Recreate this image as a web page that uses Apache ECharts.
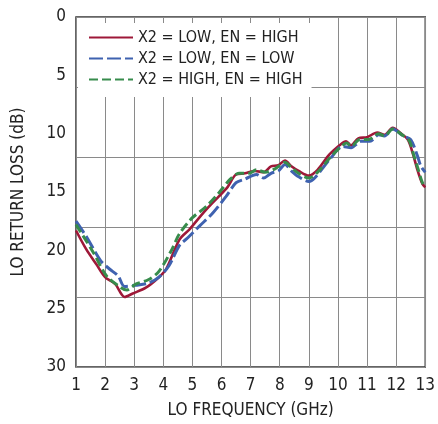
<!DOCTYPE html>
<html>
<head>
<meta charset="utf-8">
<script src="https://cdn.jsdelivr.net/npm/echarts@6/dist/echarts.min.js"></script>
<style>
  html, body { margin: 0; padding: 0; background: #fff; }
  #chart { width: 438px; height: 424px; }
</style>
</head>
<body>
<div id="chart"></div>
<script>
// X2 = LOW, EN = HIGH
var freqA = [1.0, 1.35, 1.7, 2.0, 2.35, 2.67, 2.95, 3.4, 3.85, 4.1, 4.55, 4.9, 5.2, 5.55, 5.9, 6.2, 6.5, 6.8, 7.15, 7.45, 7.7, 7.95, 8.18, 8.4, 8.65, 9.0, 9.3, 9.7, 10.1, 10.28, 10.45, 10.7, 11.0, 11.35, 11.6, 11.88, 12.15, 12.4, 12.56, 12.73, 12.9, 13.0]
var lossA = [18.3, 19.9, 21.2, 22.3, 22.9, 24.0, 23.7, 23.2, 22.3, 21.6, 19.1, 18.2, 17.3, 16.3, 15.4, 14.6, 13.5, 13.4, 13.2, 13.3, 12.8, 12.7, 12.3, 12.8, 13.2, 13.6, 13.1, 11.8, 10.9, 10.65, 11.0, 10.4, 10.3, 9.9, 10.1, 9.5, 9.95, 10.5, 11.6, 13.1, 14.3, 14.6]
// X2 = LOW, EN = LOW
var freqB = [1.0, 1.35, 1.85, 2.15, 2.45, 2.67, 3.05, 3.5, 3.85, 4.2, 4.55, 4.85, 5.25, 5.7, 6.15, 6.5, 6.8, 7.2, 7.45, 7.7, 7.95, 8.18, 8.4, 8.65, 9.0, 9.2, 9.75, 10.15, 10.45, 10.8, 11.1, 11.4, 11.6, 11.88, 12.25, 12.5, 12.73, 12.85, 13.0]
var lossB = [17.5, 18.8, 20.9, 21.6, 22.2, 23.1, 23.0, 22.8, 22.3, 21.3, 19.6, 18.9, 17.9, 16.8, 15.4, 14.2, 13.9, 13.5, 13.8, 13.4, 13.2, 12.65, 13.2, 13.7, 14.1, 13.8, 12.1, 11.1, 11.2, 10.65, 10.65, 10.1, 10.2, 9.6, 10.2, 10.5, 11.9, 12.8, 13.3]
// X2 = HIGH, EN = HIGH
var freqC = [1.0, 1.6, 2.05, 2.55, 2.75, 3.05, 3.5, 3.85, 4.3, 4.55, 5.0, 5.45, 5.9, 6.3, 6.6, 6.95, 7.2, 7.5, 7.85, 8.18, 8.4, 8.65, 9.0, 9.3, 9.75, 10.15, 10.3, 10.45, 10.75, 11.05, 11.4, 11.6, 11.88, 12.2, 12.45, 12.6, 12.75, 12.9, 13.0]
var lossC = [17.8, 20.2, 22.2, 23.2, 23.4, 22.9, 22.5, 21.8, 19.9, 18.6, 17.2, 16.3, 15.1, 13.9, 13.4, 13.4, 13.1, 13.3, 13.0, 12.45, 12.9, 13.4, 13.8, 13.3, 12.0, 11.0, 10.8, 11.1, 10.5, 10.5, 10.0, 10.2, 9.6, 10.1, 10.6, 11.8, 13.0, 14.2, 14.6]

var seriesNames = ['X2 = LOW, EN = HIGH', 'X2 = LOW, EN = LOW', 'X2 = HIGH, EN = HIGH']
var xTicks = [1, 13, 1]   // min, max, step
var yLabelTicks = [0, 30, 5]
var yGridStep = 6

var font = '"Liberation Sans Narrow", "DejaVu Sans Condensed", "Liberation Sans", sans-serif'

function pairs(xs, ys) {
    return xs.map(function (x, i) { return [x, ys[i]] })
}

var chart = echarts.init(document.getElementById('chart'), null, { renderer: 'canvas' })

chart.setOption({
    animation: false,
    textStyle: { fontFamily: font },
    grid: {
        left: 76,
        right: 10,
        top: 17,
        bottom: 56,
        show: true,
        borderColor: '#333',
        borderWidth: 1.5
    },
    legend: {
        orient: 'vertical',
        left: 78,
        top: 23,
        padding: [4, 9, 7, 10],
        backgroundColor: '#fff',
        itemWidth: 44,
        itemHeight: 14,
        itemGap: 0,
        itemStyle: { opacity: 0 },
        textStyle: { fontFamily: font, fontSize: 16, color: '#222', lineHeight: 21 },
        data: seriesNames
    },
    xAxis: [{
        type: 'value',
        min: xTicks[0],
        max: xTicks[1],
        interval: xTicks[2],
        name: 'LO FREQUENCY (GHz)',
        nameLocation: 'middle',
        nameGap: 35,
        nameTextStyle: { fontFamily: font, fontSize: 17, color: '#222' },
        axisLine: { show: false },
        axisTick: { show: false },
        axisLabel: { fontFamily: font, fontSize: 17, color: '#222', margin: 10 },
        splitLine: { show: true, lineStyle: { color: '#8a8a8a', width: 1 } }
    }],
    yAxis: [{
        type: 'value',
        position: 'left',
        inverse: true,
        min: yLabelTicks[0],
        max: yLabelTicks[1],
        interval: yLabelTicks[2],
        name: 'LO RETURN LOSS (dB)',
        nameLocation: 'middle',
        nameGap: 49,
        nameTextStyle: { fontFamily: font, fontSize: 17, color: '#222' },
        axisLine: { show: false },
        axisTick: { show: false },
        axisLabel: { fontFamily: font, fontSize: 17, color: '#222', margin: 10, padding: [3, 0, 0, 0] },
        splitLine: { show: false }
    }, {
        type: 'value',
        position: 'left',
        inverse: true,
        min: yLabelTicks[0],
        max: yLabelTicks[1],
        interval: yGridStep,
        axisLine: { show: false },
        axisTick: { show: false },
        axisLabel: { show: false },
        splitLine: { show: true, lineStyle: { color: '#8a8a8a', width: 1 } }
    }],
    series: [{
        name: seriesNames[0],
        type: 'line',
        smooth: 0.3,
        symbol: 'none',
        data: pairs(freqA, lossA),
        lineStyle: { color: '#9e1838', width: 2.6 },
        itemStyle: { color: '#9e1838' }
    },
    {
        name: seriesNames[1],
        type: 'line',
        smooth: 0.3,
        symbol: 'none',
        data: pairs(freqB, lossB),
        lineStyle: { color: '#3f62b0', width: 3, type: [14, 4] },
        itemStyle: { color: '#3f62b0' }
    },
    {
        name: seriesNames[2],
        type: 'line',
        smooth: 0.3,
        symbol: 'none',
        data: pairs(freqC, lossC),
        lineStyle: { color: '#378c4c', width: 3, type: [9, 4] },
        itemStyle: { color: '#378c4c' }
    }]
})
</script>
</body>
</html>
